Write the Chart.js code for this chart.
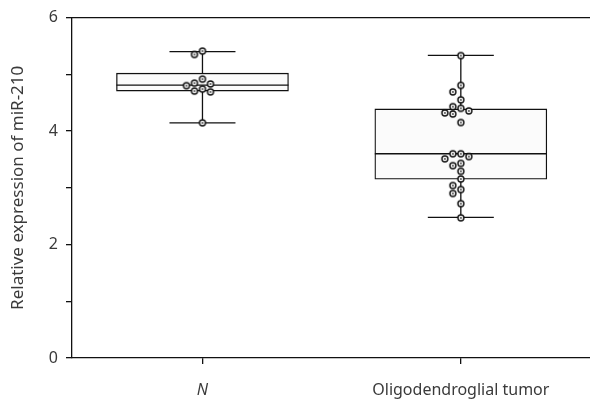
<!DOCTYPE html>
<html><head><meta charset="utf-8">
<script src="https://cdn.jsdelivr.net/npm/chart.js@4/dist/chart.umd.min.js"></script>
<style>html,body{margin:0;padding:0;background:#fff}#wrap{width:590px;height:401px}</style>
</head><body><div id="wrap"><canvas id="c" width="590" height="401"></canvas></div>
<script>
const categories = ['N', 'Oligodendroglial tumor'];
const yTickLabels = [0, 2, 4, 6];
const boxMin = [4.145, 2.48];
const boxQ1 = [4.705, 3.15];
const boxMedian = [4.81, 3.60];
const boxQ3 = [5.02, 4.39];
const boxMax = [5.40, 5.335];
const pointsN = [5.41, 5.35, 4.915, 4.845, 4.83, 4.80, 4.74, 4.705, 4.69, 4.145];
const pointsTumor = [5.33, 4.805, 4.69, 4.55, 4.43, 4.40, 4.355, 4.32, 4.30, 4.15,
  3.60, 3.60, 3.55, 3.51, 3.43, 3.39, 3.29, 3.155, 3.04, 2.97, 2.90, 2.72, 2.47];
const groups = [pointsN, pointsTumor];

const FONT = '"Noto Sans", "DejaVu Sans", sans-serif';
const TEXT = '#3a3a3a';
const LINE = '#111';
const BOX_PX = 172, CAP_PX = 66, SWARM_STEP = 8, SWARM_GAP = 7;

// marker: open circle with centre dot
const marker = document.createElement('canvas');
marker.width = 10; marker.height = 10;
(function () {
  const g = marker.getContext('2d');
  g.beginPath(); g.arc(5, 5, 3.0, 0, Math.PI * 2);
  g.fillStyle = '#fff'; g.fill();
  g.lineWidth = 1.4; g.strokeStyle = '#111'; g.stroke();
  g.beginPath(); g.arc(5, 5, 0.9, 0, Math.PI * 2); g.fillStyle = '#333'; g.fill();
})();

const whiskerPlugin = {
  id: 'whiskers',
  afterDatasetDraw(chart, args) {
    if (args.index !== 0) return;
    const { ctx, scales: { x, y } } = chart;
    ctx.save();
    ctx.strokeStyle = LINE; ctx.lineWidth = 1.3;
    categories.forEach((_, i) => {
      const cx = x.getPixelForValue(i);
      const seg = (x1, y1, x2, y2) => { ctx.beginPath(); ctx.moveTo(x1, y1); ctx.lineTo(x2, y2); ctx.stroke(); };
      const pm = y.getPixelForValue(boxMedian[i]);
      seg(cx - BOX_PX / 2, pm, cx + BOX_PX / 2, pm);
      const pq3 = y.getPixelForValue(boxQ3[i]), pmax = y.getPixelForValue(boxMax[i]);
      const pq1 = y.getPixelForValue(boxQ1[i]), pmin = y.getPixelForValue(boxMin[i]);
      seg(cx, pq3, cx, pmax);
      seg(cx, pq1, cx, pmin);
      seg(cx - CAP_PX / 2, pmax, cx + CAP_PX / 2, pmax);
      seg(cx - CAP_PX / 2, pmin, cx + CAP_PX / 2, pmin);
    });
    ctx.restore();
  }
};

const chart = new Chart(document.getElementById('c'), {
  type: 'bar',
  data: {
    datasets: [
      {
        type: 'bar',
        order: 2,
        data: categories.map((_, i) => ({ x: i, y: [boxQ1[i], boxQ3[i]] })),
        backgroundColor: '#fbfbfb',
        borderColor: LINE,
        borderWidth: 1.3,
        borderSkipped: false,
        barThickness: BOX_PX,
        xAxisID: 'x', yAxisID: 'y'
      },
      {
        type: 'scatter',
        order: 1,
        data: [],
        pointStyle: marker,
        pointRadius: 3,
        xAxisID: 'x', yAxisID: 'y'
      }
    ]
  },
  options: {
    responsive: false,
    animation: false,
    devicePixelRatio: 1,
    layout: { autoPadding: false, padding: { top: 15, right: 0, bottom: 0, left: 0 } },
    plugins: { legend: { display: false }, tooltip: { enabled: false } },
    scales: {
      x: {
        type: 'linear', position: 'bottom', min: -0.505, max: 1.5, offset: false,
        afterBuildTicks: s => { s.ticks = categories.map((_, i) => ({ value: i })); },
        afterFit: s => { s.height = 43; s.paddingLeft = 0; s.paddingRight = 0; },
        ticks: {
          callback: v => categories[v] ?? '',
          color: TEXT, padding: 17, autoSkip: false, maxRotation: 0,
          font: ctx => ({ family: FONT, size: 16, style: ctx.index === 0 ? 'italic' : 'normal' })
        },
        grid: { offset: false, drawOnChartArea: false, drawTicks: true, tickLength: 6, color: LINE, lineWidth: 1.3 },
        border: { color: LINE, width: 1.3 }
      },
      xTop: {
        type: 'linear', position: 'top', display: true, offset: false,
        ticks: { display: false },
        grid: { display: false, offset: false },
        border: { color: LINE, width: 1.3 },
        afterFit: s => { s.height = 0; s.paddingLeft = 0; s.paddingRight = 0; }
      },
      y: {
        min: 0, max: 6,
        afterFit: s => { s.width = 72; },
        ticks: {
          stepSize: 1, autoSkip: false, padding: 8, color: TEXT,
          font: { family: FONT, size: 16 },
          callback: v => yTickLabels.includes(v) ? String(v) : ''
        },
        grid: { drawOnChartArea: false, drawTicks: true, tickLength: 6, color: LINE, lineWidth: 1.3 },
        border: { color: LINE, width: 1.3 },
        title: {
          display: true, text: 'Relative expression of miR-210', color: TEXT,
          font: { family: FONT, size: 17 }, padding: { top: 8, bottom: 0 }
        }
      }
    }
  },
  plugins: [whiskerPlugin]
});

// beeswarm placement computed through the chart's scales
(function () {
  const xs = chart.scales.x, ys = chart.scales.y;
  const pxPerUnit = xs.getPixelForValue(1) - xs.getPixelForValue(0);
  const out = [];
  groups.forEach((vals, gi) => {
    const placed = [];
    [...vals].sort((a, b) => b - a).forEach(v => {
      const py = ys.getPixelForValue(v);
      for (const k of [0, -1, 1, -2, 2, -3, 3, -4, 4]) {
        const ox = k * SWARM_STEP;
        if (placed.every(p => Math.hypot(p.ox - ox, p.py - py) >= SWARM_GAP)) {
          placed.push({ ox, py });
          out.push({ x: gi + ox / pxPerUnit, y: v });
          break;
        }
      }
    });
  });
  chart.data.datasets[1].data = out;
  chart.update('none');
})();
</script>
</body></html>
